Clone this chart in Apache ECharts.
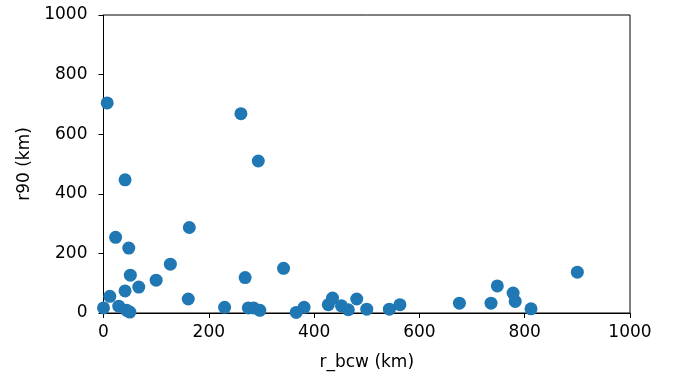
<!DOCTYPE html>
<html>
<head>
<meta charset="utf-8">
<script src="https://cdn.jsdelivr.net/npm/echarts@6/dist/echarts.min.js"></script>
<style>
html,body{margin:0;padding:0;background:#fff;}
#chart{width:676px;height:376px;}
</style>
</head>
<body>
<div id="chart"></div>
<script>
var rBcw = [7, 261, 294, 41, 23, 163, 48, 127, 342, 51, 269, 100, 67, 41, 12, 161, 230, 29, 44, 50, 0, 275, 285, 297, 366, 381, 427, 435, 452, 465, 481, 500, 543, 563, 676, 736, 748, 778, 782, 812, 900];
var r90 = [705, 669, 510, 447, 254, 287, 218, 164, 150, 127, 119, 110, 87, 74, 56, 47, 19, 23, 9, 3, 17, 17, 17, 9, 2, 19, 28, 50, 24, 11, 47, 13, 13, 28, 33, 33, 91, 67, 39, 14, 137];
var xTicks = [0, 200, 400, 600, 800, 1000];
var yTicks = [0, 200, 400, 600, 800, 1000];

var points = rBcw.map(function (x, i) { return [x, r90[i]]; });
var font = 'DejaVu Sans';
var plain = function (v) { return String(v); };
var chart = echarts.init(document.getElementById('chart'), null, {renderer: 'canvas'});
chart.setOption({
  animation: false,
  backgroundColor: '#ffffff',
  grid: {left: 103.5, right: 46, top: 15, bottom: 61, show: true, borderColor: '#000', borderWidth: 1, backgroundColor: 'transparent'},
  xAxis: {
    type: 'value', min: xTicks[0], max: xTicks[xTicks.length - 1], interval: 200,
    name: 'r_bcw (km)', nameLocation: 'middle', nameGap: 41,
    nameTextStyle: {fontFamily: font, fontSize: 17, color: '#000'},
    axisLine: {show: true, onZero: false, lineStyle: {color: '#000', width: 1}},
    axisTick: {show: true, inside: false, length: 5, lineStyle: {color: '#000'}},
    axisLabel: {fontFamily: font, fontSize: 17, color: '#000', margin: 11, formatter: plain},
    splitLine: {show: false}
  },
  yAxis: {
    type: 'value', min: yTicks[0], max: yTicks[yTicks.length - 1], interval: 200,
    name: 'r90 (km)', nameLocation: 'middle', nameGap: 70, nameRotate: 90,
    nameTextStyle: {fontFamily: font, fontSize: 17, color: '#000'},
    axisLine: {show: true, onZero: false, lineStyle: {color: '#000', width: 1}},
    axisTick: {show: true, inside: false, length: 5, lineStyle: {color: '#000'}},
    axisLabel: {fontFamily: font, fontSize: 17, color: '#000', margin: 16, formatter: plain},
    splitLine: {show: false}
  },
  series: [{
    type: 'scatter',
    data: points,
    symbol: 'circle',
    symbolSize: 13,
    clip: true,
    itemStyle: {color: '#1f77b4', opacity: 1}
  }]
});
</script>
</body>
</html>
